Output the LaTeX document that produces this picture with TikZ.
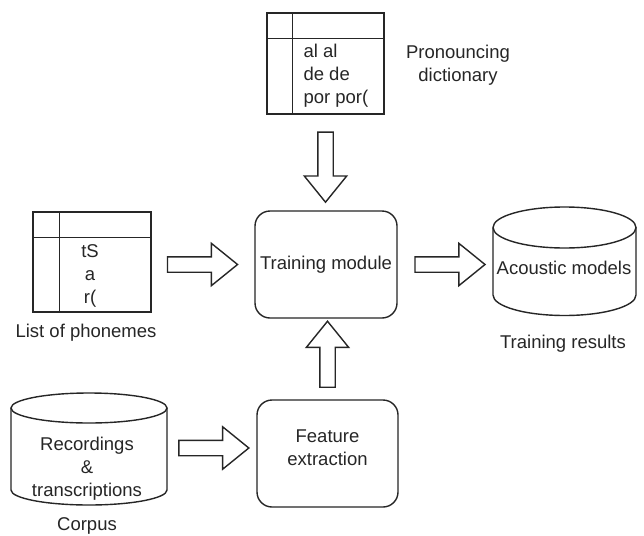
\documentclass[tikz,border=0pt]{standalone}
\usepackage{fontspec}
\setmainfont{Liberation Sans}
\usetikzlibrary{shapes.arrows,calc}
\definecolor{ink}{HTML}{262626}
\begin{document}
\begin{tikzpicture}[x=1pt,y=-1pt,
  every node/.style={font=\fontsize{18.5}{23}\selectfont, text=ink},
  ln/.style={draw=ink, line width=1.4pt},
  thinln/.style={draw=ink, line width=1.1pt},
  roundbox/.style={ln, rectangle, rounded corners=15pt, minimum width=142pt, minimum height=107pt, inner sep=0pt},
  tablebox/.style={thinln, rectangle, inner sep=0pt},
  blockarrow/.style={single arrow, draw=ink, line width=1.4pt, fill=white,
    minimum width=41pt, single arrow head extend=13.5pt, inner xsep=0pt, inner ysep=7pt,
    single arrow tip angle=78, sloped, allow upside down, minimum height=#1},
]
\fill[white] (0,0) rectangle (644,535);
\useasboundingbox (0,0) rectangle (644,535);

% pronouncing dictionary table
\node[tablebox, minimum width=117pt, minimum height=101pt] (dict) at (325.5,63.5) {};
\draw[thinln] ($(dict.north west)+(26,0)$) -- ($(dict.south west)+(26,0)$);
\draw[thinln] ($(dict.north west)+(0,26)$) -- ($(dict.north east)+(0,26)$);
\node[anchor=west, align=left] (dictwords) at (300,76) {al al\\de de\\por por(};
\node[align=center] (dictlabel) at (458,65) {Pronouncing\\dictionary};

% list of phonemes table
\node[tablebox, minimum width=118pt, minimum height=100pt] (phon) at (92,262) {};
\draw[thinln] ($(phon.north west)+(27,0)$) -- ($(phon.south west)+(27,0)$);
\draw[thinln] ($(phon.north west)+(0,26)$) -- ($(phon.north east)+(0,26)$);
\node[align=center] (phonwords) at (90,276) {tS\\a\\r(};
\node (phonlabel) at (86,333) {List of phonemes};

% training module and feature extraction
\node[roundbox] (train) at (326,264.5) {Training module};
\node[roundbox, minimum width=141pt] (feat) at (327.5,453.5) {};
\node[align=center] (feattxt) at (327.5,448) {Feature\\extraction};

% acoustic models cylinder
\node[minimum width=143pt, minimum height=108pt, inner sep=0pt] (acmbody) at (564.5,261) {};
\draw[ln] (493,227.5) -- (493,295) arc[start angle=180, end angle=0, x radius=71.5, y radius=20.5] -- (636,227.5);
\draw[ln] (564.5,227.5) ellipse[x radius=71.5, y radius=20.5];
\node (acm) at (564,268) {Acoustic models};
\node (acmlabel) at (563,344) {Training results};

% corpus cylinder
\node[minimum width=156pt, minimum height=112pt, inner sep=0pt] (corpbody) at (89,449) {};
\draw[ln] (11,408) -- (11,490) arc[start angle=180, end angle=0, x radius=78, y radius=15] -- (167,408);
\draw[ln] (89,408) ellipse[x radius=78, y radius=15];
\node[align=center] (corptxt) at (87,469) {Recordings\\\&\\transcriptions};
\node (corplabel) at (87,526) {Corpus};

% block arrows
\path (dict.south) -- node[blockarrow=70]{} (dict.south |- train.north);
\path (train.west -| phon.east) -- node[pos=0.45, blockarrow=70]{} (train.west);
\path (train.east) -- node[blockarrow=70]{} (train.east -| acmbody.west);
\path (feat.north) -- node[blockarrow=66]{} (feat.north |- train.south);
\path (feattxt -| corpbody.east) -- node[pos=0.47, blockarrow=70]{} (feattxt -| feat.west);
\end{tikzpicture}
\end{document}
